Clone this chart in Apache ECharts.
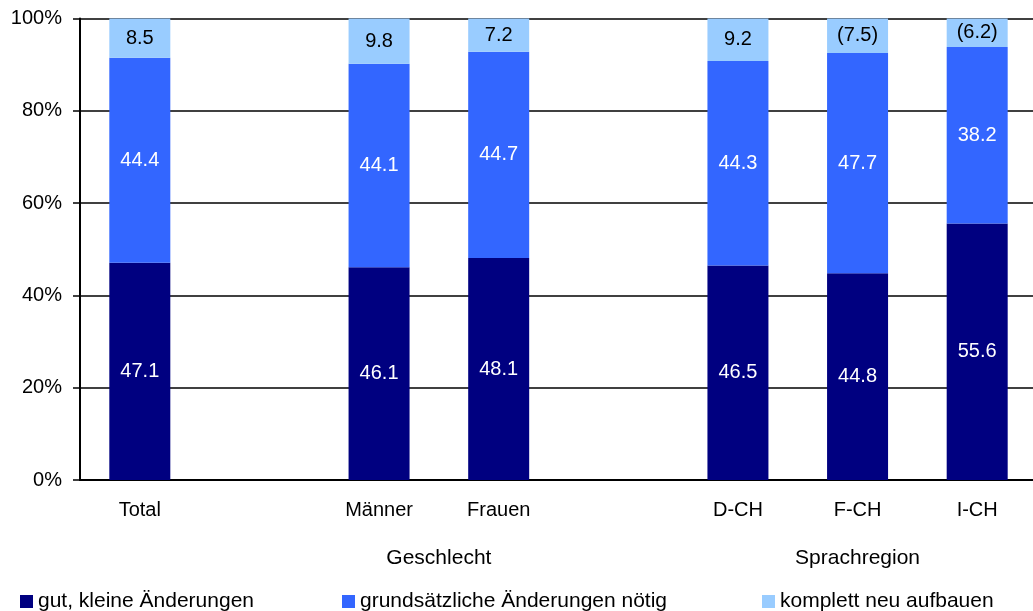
<!DOCTYPE html>
<html><head><meta charset="utf-8">
<script src="https://cdn.jsdelivr.net/npm/echarts@6/dist/echarts.min.js"></script>
<style>html,body{margin:0;padding:0;background:#fff;overflow:hidden;width:1033px;height:611px}#c{width:1040px;height:611px}</style>
</head><body><div id="c"></div>
<script>
const categories = ['Total', '', 'Männer', 'Frauen', '', 'D-CH', 'F-CH', 'I-CH'];
const gutValues = [47.1, null, 46.1, 48.1, null, 46.5, 44.8, 55.6];
const grundValues = [44.4, null, 44.1, 44.7, null, 44.3, 47.7, 38.2];
const neuValues = [8.5, null, 9.8, 7.2, null, 9.2, 7.5, 6.2];
const neuLabels = ['8.5', '', '9.8', '7.2', '', '9.2', '(7.5)', '(6.2)'];
const groupLabels = [{pos: 3, text: 'Geschlecht'}, {pos: 6.5, text: 'Sprachregion'}];
const seriesNames = ['gut, kleine Änderungen', 'grundsätzliche Änderungen nötig', 'komplett neu aufbauen'];
const yTicks = [0, 20, 40, 60, 80, 100];

const FONT = 'Liberation Sans, Arial, sans-serif';
const colors = ['#000080', '#3366FF', '#99CCFF'];
const chart = echarts.init(document.getElementById('c'), null, {width: 1040, height: 611});

function legendAt(name, left) {
  return {
    data: [name], left: left, top: 591, icon: 'rect', itemWidth: 13, itemHeight: 13, itemGap: 0,
    textStyle: {fontFamily: FONT, fontSize: 21, color: '#000'}, padding: 0
  };
}

chart.setOption({
  animation: false,
  color: colors,
  grid: {left: 80, right: 0, top: 18.5, height: 461.5, containLabel: false},
  legend: [legendAt(seriesNames[0], 20), legendAt(seriesNames[1], 342), legendAt(seriesNames[2], 762)],
  xAxis: [{
    type: 'category', data: categories,
    axisLine: {lineStyle: {color: '#000', width: 2}},
    axisTick: {show: false},
    axisLabel: {fontFamily: FONT, fontSize: 20, color: '#000', margin: 20, interval: 0}
  }, {
    type: 'value', min: 0, max: 8, interval: 0.5, position: 'bottom', offset: 49,
    axisLine: {show: false}, axisTick: {show: false}, splitLine: {show: false},
    axisLabel: {
      fontFamily: FONT, fontSize: 21, color: '#000', margin: 19,
      formatter: v => { const g = groupLabels.find(x => x.pos === v); return g ? g.text : ''; }
    }
  }],
  yAxis: {
    type: 'value', min: yTicks[0], max: yTicks[yTicks.length - 1], interval: 20,
    axisLine: {show: true, lineStyle: {color: '#000', width: 2}},
    axisTick: {show: true, length: 7, lineStyle: {color: '#000', width: 1.5}},
    splitLine: {lineStyle: {color: '#000', width: 1.5}},
    axisLabel: {fontFamily: FONT, fontSize: 20, color: '#000', margin: 18, formatter: '{value}%'}
  },
  series: [
    {name: seriesNames[0], type: 'bar', stack: 's', data: gutValues, barWidth: 61,
     label: {show: true, position: 'inside', color: '#fff', fontFamily: FONT, fontSize: 20}},
    {name: seriesNames[1], type: 'bar', stack: 's', data: grundValues, barWidth: 61,
     label: {show: true, position: 'inside', color: '#fff', fontFamily: FONT, fontSize: 20}},
    {name: seriesNames[2], type: 'bar', stack: 's', data: neuValues, barWidth: 61,
     label: {show: true, position: 'inside', color: '#000', fontFamily: FONT, fontSize: 20,
             formatter: p => neuLabels[p.dataIndex]}}
  ]
});
</script></body></html>
